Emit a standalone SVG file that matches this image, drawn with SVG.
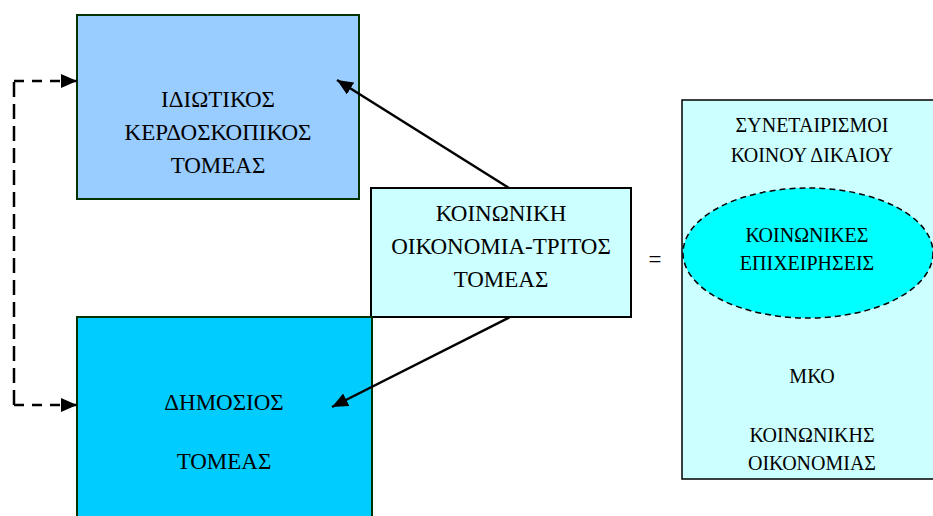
<svg xmlns="http://www.w3.org/2000/svg" width="933" height="516" viewBox="0 0 933 516">
<style>
.big{font-family:'Liberation Serif','Times New Roman',serif;font-size:23px;text-anchor:middle;fill:#000}
.small{font-family:'Liberation Serif','Times New Roman',serif;font-size:20px;text-anchor:middle;fill:#000}
.conn{stroke:#000;stroke-width:2.5;fill:none}
</style>
<defs>
<marker id="ah" markerUnits="userSpaceOnUse" markerWidth="18" markerHeight="14" refX="16" refY="7" orient="auto">
<path d="M0,0 L16,7 L0,14 z" fill="#000"/>
</marker>
</defs>
<rect width="933" height="516" fill="#fff"/>
<g id="private">
<rect x="77" y="15" width="282" height="184" fill="#99CCFF" stroke="#003300" stroke-width="2"/>
<text class="big" x="218" y="107">ΙΔΙΩΤΙΚΟΣ</text>
<text class="big" x="218" y="140">ΚΕΡΔΟΣΚΟΠΙΚΟΣ</text>
<text class="big" x="218" y="173">ΤΟΜΕΑΣ</text>
</g>
<g id="social-economy">
<rect x="371" y="188" width="260" height="129" fill="#CCFFFF" stroke="#000" stroke-width="2"/>
<text class="big" x="501" y="221">ΚΟΙΝΩΝΙΚΗ</text>
<text class="big" x="501" y="254">ΟΙΚΟΝΟΜΙΑ-ΤΡΙΤΟΣ</text>
<text class="big" x="501" y="287">ΤΟΜΕΑΣ</text>
</g>
<g id="public">
<rect x="77" y="317" width="295" height="210" fill="#00CCFF" stroke="#003300" stroke-width="2"/>
<text class="big" x="224" y="410">ΔΗΜΟΣΙΟΣ</text>
<text class="big" x="224" y="469">ΤΟΜΕΑΣ</text>
</g>
<g id="equals">
<text class="big" x="655" y="267">=</text>
</g>
<g id="components">
<rect x="682" y="100" width="262" height="379" fill="#CCFFFF" stroke="#000" stroke-width="1.5"/>
<text class="small" x="812" y="132">ΣΥΝΕΤΑΙΡΙΣΜΟΙ</text>
<text class="small" x="812" y="162">ΚΟΙΝΟΥ ΔΙΚΑΙΟΥ</text>
<text class="small" x="812" y="383">ΜΚΟ</text>
<text class="small" x="812" y="442">ΚΟΙΝΩΝΙΚΗΣ</text>
<text class="small" x="812" y="470">ΟΙΚΟΝΟΜΙΑΣ</text>
</g>
<g id="social-enterprises">
<ellipse cx="808" cy="253" rx="125" ry="65" fill="#00FFFF" stroke="#000" stroke-width="1.5" stroke-dasharray="6 4"/>
<text class="small" x="807" y="242">ΚΟΙΝΩΝΙΚΕΣ</text>
<text class="small" x="807" y="270">ΕΠΙΧΕΙΡΗΣΕΙΣ</text>
</g>
<g id="connectors">
<line class="conn" x1="509" y1="188" x2="337" y2="80" marker-end="url(#ah)"/>
<line class="conn" x1="510" y1="317" x2="332" y2="407" marker-end="url(#ah)"/>
<polyline class="conn" points="14,405 14,81" stroke-width="2" stroke-dasharray="15 7"/>
<line class="conn" x1="14" y1="81" x2="77" y2="81" stroke-width="2" stroke-dasharray="10 8" marker-end="url(#ah)"/>
<line class="conn" x1="14" y1="405" x2="77" y2="405" stroke-width="2" stroke-dasharray="10 8" marker-end="url(#ah)"/>
</g>
</svg>
